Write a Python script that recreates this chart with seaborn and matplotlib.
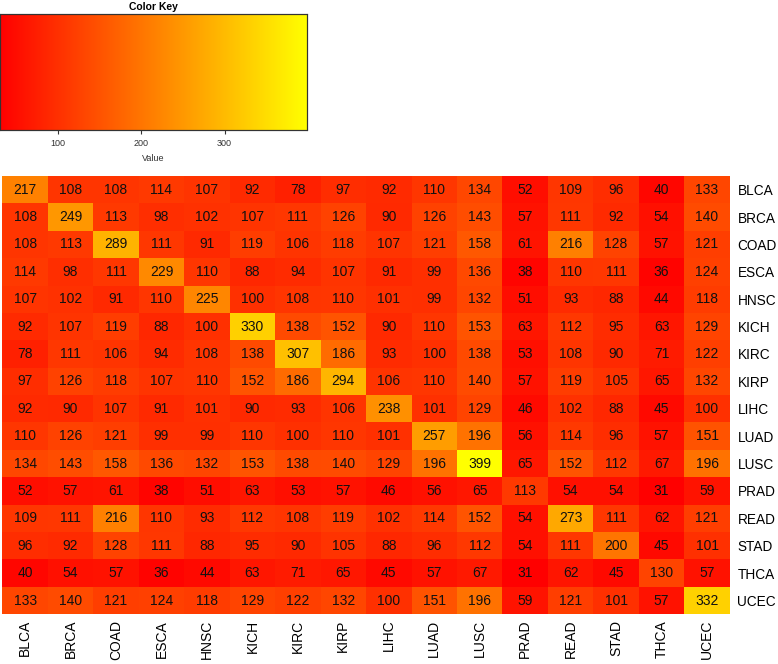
import numpy as np
import pandas as pd
import matplotlib
matplotlib.use("Agg")
import matplotlib.pyplot as plt
from matplotlib.colors import LinearSegmentedColormap
import seaborn as sns

cancers = ["BLCA", "BRCA", "COAD", "ESCA", "HNSC", "KICH", "KIRC", "KIRP",
           "LIHC", "LUAD", "LUSC", "PRAD", "READ", "STAD", "THCA", "UCEC"]

blca = [217, 108, 108, 114, 107, 92, 78, 97, 92, 110, 134, 52, 109, 96, 40, 133]
brca = [108, 249, 113, 98, 102, 107, 111, 126, 90, 126, 143, 57, 111, 92, 54, 140]
coad = [108, 113, 289, 111, 91, 119, 106, 118, 107, 121, 158, 61, 216, 128, 57, 121]
esca = [114, 98, 111, 229, 110, 88, 94, 107, 91, 99, 136, 38, 110, 111, 36, 124]
hnsc = [107, 102, 91, 110, 225, 100, 108, 110, 101, 99, 132, 51, 93, 88, 44, 118]
kich = [92, 107, 119, 88, 100, 330, 138, 152, 90, 110, 153, 63, 112, 95, 63, 129]
kirc = [78, 111, 106, 94, 108, 138, 307, 186, 93, 100, 138, 53, 108, 90, 71, 122]
kirp = [97, 126, 118, 107, 110, 152, 186, 294, 106, 110, 140, 57, 119, 105, 65, 132]
lihc = [92, 90, 107, 91, 101, 90, 93, 106, 238, 101, 129, 46, 102, 88, 45, 100]
luad = [110, 126, 121, 99, 99, 110, 100, 110, 101, 257, 196, 56, 114, 96, 57, 151]
lusc = [134, 143, 158, 136, 132, 153, 138, 140, 129, 196, 399, 65, 152, 112, 67, 196]
prad = [52, 57, 61, 38, 51, 63, 53, 57, 46, 56, 65, 113, 54, 54, 31, 59]
read = [109, 111, 216, 110, 93, 112, 108, 119, 102, 114, 152, 54, 273, 111, 62, 121]
stad = [96, 92, 128, 111, 88, 95, 90, 105, 88, 96, 112, 54, 111, 200, 45, 101]
thca = [40, 54, 57, 36, 44, 63, 71, 65, 45, 57, 67, 31, 62, 45, 130, 57]
ucec = [133, 140, 121, 124, 118, 129, 122, 132, 100, 151, 196, 59, 121, 101, 57, 332]

rows = [blca, brca, coad, esca, hnsc, kich, kirc, kirp,
        lihc, luad, lusc, prad, read, stad, thca, ucec]
df = pd.DataFrame(rows, index=cancers, columns=cancers)

plt.rcParams['font.family'] = ['Liberation Sans', 'DejaVu Sans']

# R heat.colors style: red -> orange -> yellow
heat = LinearSegmentedColormap.from_list("heat", ["#FF0000", "#FF8000", "#FFFF00"])
vmin, vmax = df.values.min(), df.values.max()

fig = plt.figure(figsize=(7.78, 6.64), dpi=100)
ax = fig.add_axes([0.003, 0.075, 0.935, 0.66])
cax = fig.add_axes([0.0, 0.804, 0.395, 0.175])

sns.heatmap(df, ax=ax, cmap=heat, vmin=vmin, vmax=vmax, annot=True, fmt="d",
            annot_kws={"size": 10, "color": "#111111"}, cbar=True, cbar_ax=cax,
            cbar_kws={"orientation": "horizontal"})

ax.yaxis.tick_right()
ax.tick_params(axis="y", length=0, labelsize=9.8, pad=5.5)
ax.tick_params(axis="x", length=0, labelsize=10, pad=4)
ax.set_yticklabels(cancers, rotation=0)
ax.set_xticklabels(cancers, rotation=90)
ax.set_xlabel("")
ax.set_ylabel("")

cax.set_xticks([100, 200, 300])
cax.tick_params(axis="x", labelsize=6.5, length=3, colors="#333333")
cax.set_xlabel("Value", fontsize=6.5, color="#333333")
cax.set_title("Color Key", fontsize=7.5, fontweight="bold", pad=3)
for s in cax.spines.values():
    s.set_visible(True)
    s.set_color("#333333")
    s.set_linewidth(0.8)

fig.savefig("out.png", dpi=100)
